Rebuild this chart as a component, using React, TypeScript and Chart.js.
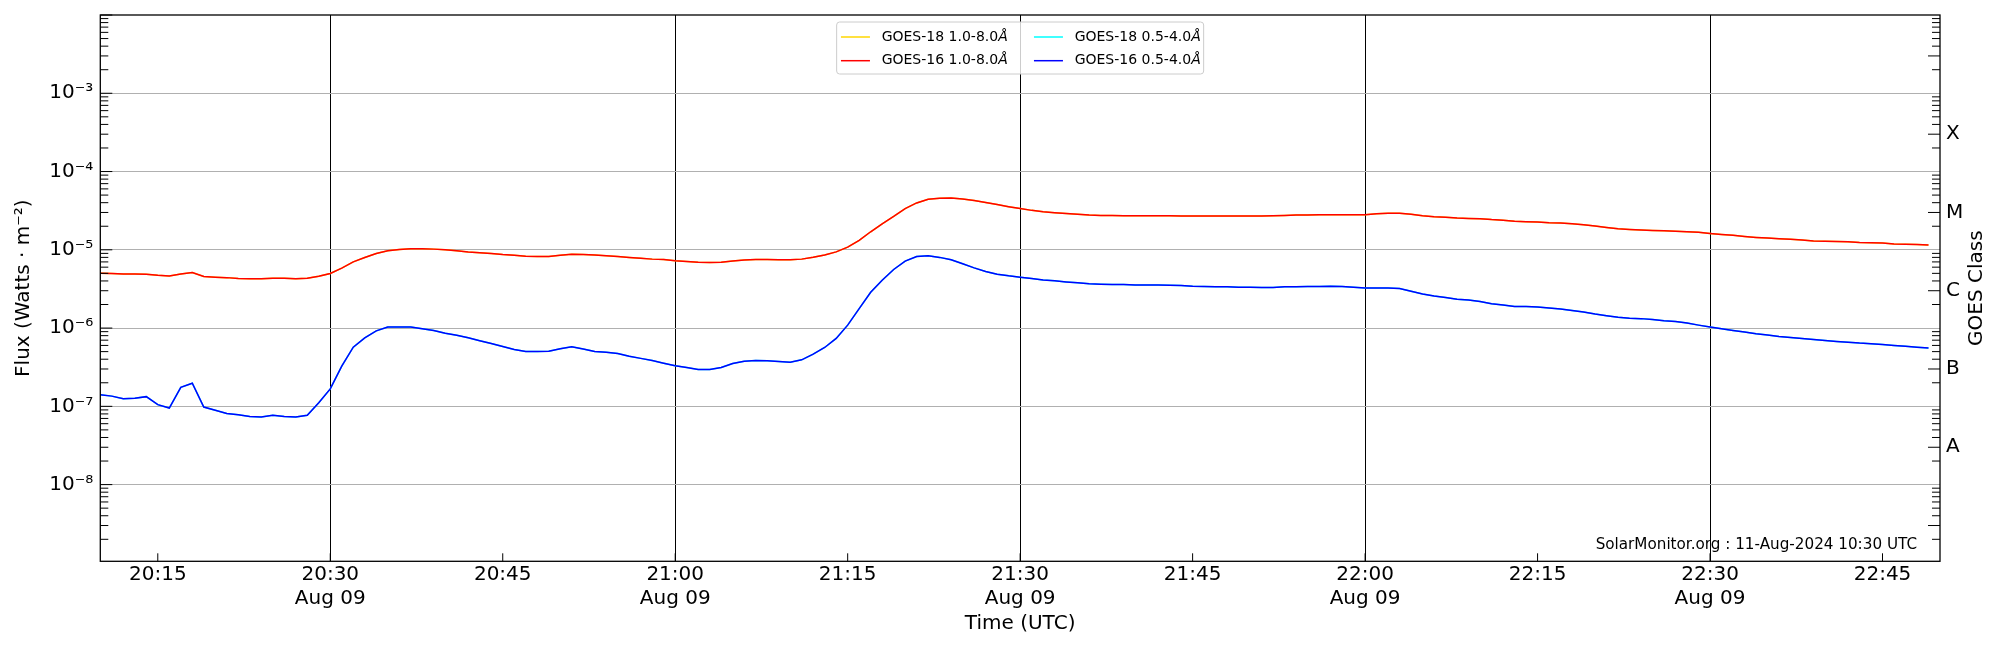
import { useEffect, useRef } from "react";
import { Chart, registerables, type Plugin } from "chart.js";

Chart.register(...registerables);

// one reading per minute, first one at 20:10 UT (minutes counted from 20:00)
const startMinute = 10;

// GOES-16 1.0-8.0 A flux, W m^-2
const goes16Long = [
  5.02e-6, 4.98e-6, 4.9e-6, 4.9e-6, 4.88e-6, 4.73e-6, 4.64e-6, 4.9e-6, 5.12e-6, 4.55e-6,
  4.47e-6, 4.41e-6, 4.3e-6, 4.28e-6, 4.28e-6, 4.32e-6, 4.32e-6, 4.28e-6, 4.32e-6, 4.59e-6,
  4.98e-6, 5.82e-6, 7.0e-6, 7.97e-6, 8.98e-6, 9.7e-6, 1.01e-5, 1.03e-5, 1.03e-5, 1.02e-5,
  1.0e-5, 9.7e-6, 9.4e-6, 9.2e-6, 8.98e-6, 8.7e-6, 8.5e-6, 8.3e-6, 8.2e-6, 8.2e-6,
  8.5e-6, 8.8e-6, 8.7e-6, 8.55e-6, 8.4e-6, 8.2e-6, 7.98e-6, 7.8e-6, 7.6e-6, 7.5e-6,
  7.23e-6, 7.1e-6, 6.95e-6, 6.9e-6, 6.95e-6, 7.2e-6, 7.4e-6, 7.5e-6, 7.5e-6, 7.45e-6,
  7.45e-6, 7.6e-6, 8.05e-6, 8.6e-6, 9.4e-6, 1.08e-5, 1.32e-5, 1.7e-5, 2.15e-5, 2.67e-5,
  3.36e-5, 3.97e-5, 4.42e-5, 4.55e-5, 4.59e-5, 4.47e-5, 4.25e-5, 4.01e-5, 3.78e-5, 3.56e-5,
  3.36e-5, 3.19e-5, 3.07e-5, 2.98e-5, 2.9e-5, 2.84e-5, 2.78e-5, 2.75e-5, 2.75e-5, 2.73e-5,
  2.73e-5, 2.73e-5, 2.73e-5, 2.72e-5, 2.7e-5, 2.7e-5, 2.7e-5, 2.7e-5, 2.7e-5, 2.7e-5,
  2.7e-5, 2.7e-5, 2.73e-5, 2.75e-5, 2.78e-5, 2.78e-5, 2.81e-5, 2.81e-5, 2.81e-5, 2.81e-5,
  2.81e-5, 2.88e-5, 2.92e-5, 2.92e-5, 2.84e-5, 2.73e-5, 2.65e-5, 2.6e-5, 2.55e-5, 2.52e-5,
  2.5e-5, 2.43e-5, 2.38e-5, 2.31e-5, 2.29e-5, 2.27e-5, 2.22e-5, 2.2e-5, 2.15e-5, 2.09e-5,
  2.01e-5, 1.93e-5, 1.86e-5, 1.82e-5, 1.79e-5, 1.77e-5, 1.75e-5, 1.73e-5, 1.7e-5, 1.67e-5,
  1.62e-5, 1.57e-5, 1.53e-5, 1.48e-5, 1.44e-5, 1.41e-5, 1.38e-5, 1.36e-5, 1.33e-5, 1.3e-5,
  1.29e-5, 1.28e-5, 1.27e-5, 1.24e-5, 1.23e-5, 1.22e-5, 1.19e-5, 1.18e-5, 1.17e-5, 1.15e-5,
];

// GOES-16 0.5-4.0 A flux, W m^-2
const goes16Short = [
  1.41e-7, 1.35e-7, 1.25e-7, 1.27e-7, 1.33e-7, 1.05e-7, 9.5e-8, 1.75e-7, 1.97e-7, 9.8e-8,
  8.9e-8, 8.1e-8, 7.8e-8, 7.4e-8, 7.3e-8, 7.7e-8, 7.4e-8, 7.3e-8, 7.7e-8, 1.11e-7,
  1.67e-7, 3.26e-7, 5.7e-7, 7.5e-7, 9.2e-7, 1.03e-6, 1.03e-6, 1.03e-6, 9.8e-7, 9.3e-7,
  8.6e-7, 8.1e-7, 7.5e-7, 6.9e-7, 6.36e-7, 5.82e-7, 5.33e-7, 5.02e-7, 5.02e-7, 5.06e-7,
  5.43e-7, 5.77e-7, 5.4e-7, 5.02e-7, 4.9e-7, 4.73e-7, 4.37e-7, 4.1e-7, 3.85e-7, 3.56e-7,
  3.29e-7, 3.13e-7, 2.95e-7, 2.95e-7, 3.13e-7, 3.52e-7, 3.77e-7, 3.85e-7, 3.81e-7, 3.73e-7,
  3.66e-7, 3.93e-7, 4.64e-7, 5.65e-7, 7.38e-7, 1.09e-6, 1.77e-6, 2.86e-6, 4.08e-6, 5.6e-6,
  7.16e-6, 8.22e-6, 8.38e-6, 8.0e-6, 7.45e-6, 6.62e-6, 5.88e-6, 5.27e-6, 4.88e-6, 4.65e-6,
  4.47e-6, 4.29e-6, 4.12e-6, 4.01e-6, 3.89e-6, 3.78e-6, 3.67e-6, 3.63e-6, 3.6e-6, 3.6e-6,
  3.56e-6, 3.56e-6, 3.56e-6, 3.52e-6, 3.49e-6, 3.42e-6, 3.39e-6, 3.36e-6, 3.36e-6, 3.32e-6,
  3.32e-6, 3.3e-6, 3.3e-6, 3.36e-6, 3.36e-6, 3.39e-6, 3.39e-6, 3.42e-6, 3.39e-6, 3.32e-6,
  3.26e-6, 3.24e-6, 3.26e-6, 3.2e-6, 2.95e-6, 2.73e-6, 2.57e-6, 2.45e-6, 2.33e-6, 2.29e-6,
  2.18e-6, 2.05e-6, 1.97e-6, 1.88e-6, 1.88e-6, 1.86e-6, 1.8e-6, 1.75e-6, 1.68e-6, 1.6e-6,
  1.51e-6, 1.44e-6, 1.37e-6, 1.33e-6, 1.32e-6, 1.29e-6, 1.24e-6, 1.21e-6, 1.16e-6, 1.09e-6,
  1.03e-6, 9.8e-7, 9.33e-7, 8.89e-7, 8.46e-7, 8.13e-7, 7.82e-7, 7.59e-7, 7.38e-7, 7.16e-7,
  6.95e-7, 6.75e-7, 6.6e-7, 6.43e-7, 6.32e-7, 6.18e-7, 6.0e-7, 5.84e-7, 5.7e-7, 5.55e-7,
];

// GOES-18 traces lie right under the GOES-16 ones, no visible difference at this scale
const goes18Long = goes16Long;
const goes18Short = goes16Short;

const xTicks = [15, 30, 45, 60, 75, 90, 105, 120, 135, 150, 165];
const decadeTicks = [1e-8, 1e-7, 1e-6, 1e-5, 1e-4, 1e-3];
const classTicks = [3e-8, 3e-7, 3e-6, 3e-5, 3e-4];
const classLabels = ["A", "B", "C", "M", "X"];
const dateLabel = "Aug 09";
const stamp = "SolarMonitor.org : 11-Aug-2024 10:30 UTC";

const FONT = "'DejaVu Sans', sans-serif";

const SUP: Record<string, string> = {
  "-": "\u207B", "0": "\u2070", "1": "\u00B9", "2": "\u00B2", "3": "\u00B3",
  "4": "\u2074", "5": "\u2075", "6": "\u2076", "7": "\u2077", "8": "\u2078", "9": "\u2079",
};

function powLabel(v: number) {
  const e = Math.round(Math.log10(v));
  return "10" + String(e).split("").map((c) => SUP[c]).join("");
}

function hhmm(m: number) {
  const h = 20 + Math.floor(m / 60);
  return `${h}:${String(m % 60).padStart(2, "0")}`;
}

const toPoints = (arr: number[]) => arr.map((v, i) => ({ x: startMinute + i, y: v }));

const decor: Plugin<"line"> = {
  id: "goesDecor",
  afterDraw(chart) {
    const { ctx, chartArea: a, scales } = chart;
    const y = scales.y;
    const x = scales.x;
    ctx.save();

    // inward tick marks
    ctx.strokeStyle = "#000";
    ctx.lineWidth = 1;
    ctx.beginPath();
    for (let n = -9; n <= -2; n++) {
      for (let k = 1; k <= 9; k++) {
        const v = k * Math.pow(10, n);
        if (v < y.min || v > y.max) continue;
        const py = y.getPixelForValue(v);
        const lenL = k === 1 ? 12 : 8;
        ctx.moveTo(a.left, py);
        ctx.lineTo(a.left + lenL, py);
        if (k > 1) {
          const lenR = k === 3 ? 12 : 8;
          ctx.moveTo(a.right, py);
          ctx.lineTo(a.right - lenR, py);
        }
      }
    }
    xTicks.forEach((t) => {
      const px = x.getPixelForValue(t);
      ctx.moveTo(px, a.bottom);
      ctx.lineTo(px, a.bottom - 8);
    });
    ctx.stroke();

    // frame
    ctx.lineWidth = 1.3;
    ctx.strokeRect(a.left, a.top, a.right - a.left, a.bottom - a.top);

    // legend, two columns at the top centre
    const boxW = 367;
    const boxH = 52;
    const bx = (a.left + a.right) / 2 - boxW / 2;
    const by = a.top + 7;
    ctx.beginPath();
    ctx.roundRect(bx, by, boxW, boxH, 3);
    ctx.fillStyle = "rgba(255,255,255,0.8)";
    ctx.fill();
    ctx.strokeStyle = "#cccccc";
    ctx.lineWidth = 1;
    ctx.stroke();
    chart.data.datasets.forEach((ds, i) => {
      const col = i % 2;
      const row = Math.floor(i / 2);
      const lx = bx + 4.3 + col * 193;
      const ly = by + 15 + row * 23.7;
      ctx.strokeStyle = ds.borderColor as string;
      ctx.lineWidth = 1.5;
      ctx.beginPath();
      ctx.moveTo(lx, ly);
      ctx.lineTo(lx + 29, ly);
      ctx.stroke();
      const label = ds.label ?? "";
      const main = label.slice(0, -1);
      ctx.fillStyle = "#000";
      ctx.textBaseline = "middle";
      ctx.textAlign = "left";
      ctx.font = `14px ${FONT}`;
      ctx.fillText(main, lx + 40.7, ly);
      const w = ctx.measureText(main).width;
      ctx.font = `italic 14px ${FONT}`;
      ctx.fillText(label.slice(-1), lx + 40.7 + w, ly);
    });

    // right-hand axis title
    ctx.save();
    ctx.translate(1977, (a.top + a.bottom) / 2);
    ctx.rotate(-Math.PI / 2);
    ctx.font = `20px ${FONT}`;
    ctx.fillStyle = "#000";
    ctx.textAlign = "center";
    ctx.textBaseline = "middle";
    ctx.fillText("GOES Class", 0, 0);
    ctx.restore();

    // stamp
    ctx.font = `15.2px ${FONT}`;
    ctx.fillStyle = "#000";
    ctx.textAlign = "right";
    ctx.textBaseline = "alphabetic";
    ctx.fillText(stamp, a.right - 23, a.bottom - 12);

    ctx.restore();
  },
};

export default function App() {
  const canvasRef = useRef<HTMLCanvasElement>(null);

  useEffect(() => {
    document.body.style.margin = "0";
    if (!canvasRef.current) return;

    Chart.defaults.font.family = FONT;
    Chart.defaults.color = "#000";

    const chart = new Chart(canvasRef.current, {
      type: "line",
      data: {
        datasets: [
          { label: "GOES-18 1.0-8.0Å", data: toPoints(goes18Long), borderColor: "#ffd700", order: 1 },
          { label: "GOES-18 0.5-4.0Å", data: toPoints(goes18Short), borderColor: "#00ffff", order: 1 },
          { label: "GOES-16 1.0-8.0Å", data: toPoints(goes16Long), borderColor: "#ff0000", order: 0 },
          { label: "GOES-16 0.5-4.0Å", data: toPoints(goes16Short), borderColor: "#0000ff", order: 0 },
        ],
      },
      options: {
        responsive: false,
        animation: false,
        devicePixelRatio: 1,
        layout: { padding: { top: 15, bottom: 0, left: 0, right: 0 } },
        datasets: {
          line: { borderWidth: 1.5, pointRadius: 0, tension: 0, fill: false },
        },
        plugins: {
          legend: { display: false },
          tooltip: { enabled: false },
        },
        scales: {
          x: {
            type: "linear",
            position: "bottom",
            min: 10,
            max: 170,
            bounds: "data",
            afterBuildTicks: (scale) => {
              scale.ticks = xTicks.map((v) => ({ value: v }));
            },
            afterFit: (scale) => {
              scale.height = 88.7;
              scale.paddingLeft = 0;
              scale.paddingRight = 0;
            },
            grid: {
              color: (c) => (c.tick && c.tick.value % 30 === 0 ? "#000" : "rgba(0,0,0,0)"),
              lineWidth: 1,
              drawTicks: false,
            },
            border: { display: false },
            ticks: {
              autoSkip: false,
              maxRotation: 0,
              minRotation: 0,
              padding: 1.5,
              font: { size: 20, lineHeight: 1.2 },
              color: "#000",
              callback: (v) => {
                const m = Number(v);
                return m % 30 === 0 ? [hhmm(m), dateLabel] : hhmm(m);
              },
            },
            title: {
              display: true,
              text: "Time (UTC)",
              font: { size: 20 },
              color: "#000",
              padding: { top: 0, bottom: 14 },
            },
          },
          y: {
            type: "logarithmic",
            position: "left",
            min: 1.047e-9,
            max: 1e-2,
            bounds: "data",
            afterBuildTicks: (scale) => {
              scale.ticks = decadeTicks.map((v) => ({ value: v }));
            },
            afterFit: (scale) => {
              scale.width = 100.3;
              scale.paddingTop = 0;
              scale.paddingBottom = 0;
            },
            grid: { color: "#b0b0b0", lineWidth: 1, drawTicks: false },
            border: { display: false },
            ticks: {
              padding: 7,
              font: { size: 20 },
              color: "#000",
              callback: (v) => powLabel(Number(v)),
            },
            title: {
              display: true,
              text: "Flux (Watts · m\u207B\u00B2)",
              font: { size: 20 },
              color: "#000",
              padding: { top: 12, bottom: 0 },
            },
          },
          yClass: {
            type: "logarithmic",
            position: "right",
            min: 1.047e-9,
            max: 1e-2,
            bounds: "data",
            afterBuildTicks: (scale) => {
              scale.ticks = classTicks.map((v) => ({ value: v }));
            },
            afterFit: (scale) => {
              scale.width = 60;
              scale.paddingTop = 0;
              scale.paddingBottom = 0;
            },
            grid: { display: false, drawTicks: false },
            border: { display: false },
            ticks: {
              padding: 6,
              font: { size: 20 },
              color: "#000",
              callback: (v) => {
                const i = classTicks.findIndex((c) => Math.abs(c - Number(v)) / c < 1e-6);
                return i >= 0 ? classLabels[i] : "";
              },
            },
          },
        },
      },
      plugins: [decor],
    });

    return () => {
      chart.destroy();
    };
  }, []);

  return (
    <div style={{ width: 2000, height: 650, background: "#fff" }}>
      <canvas ref={canvasRef} width={2000} height={650} style={{ display: "block" }} />
    </div>
  );
}
